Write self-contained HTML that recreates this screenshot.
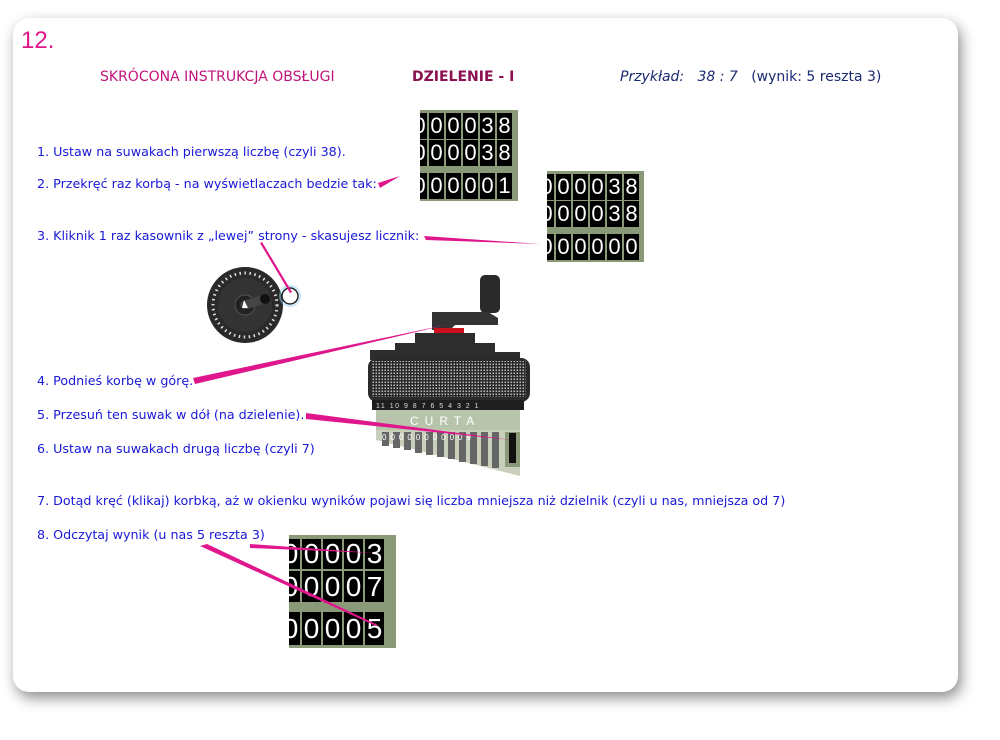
<!DOCTYPE html>
<html><head><meta charset="utf-8">
<style>
body{margin:0;width:1000px;height:740px;background:#fff;position:relative;overflow:hidden;font-family:"DejaVu Sans",sans-serif}
.card{position:absolute;left:13px;top:18px;width:945px;height:674px;background:#fff;border-radius:16px;box-shadow:3px 6px 14px rgba(0,0,0,.45)}
.t{position:absolute;font-size:12.7px;color:#1818d8;white-space:nowrap;font-family:"DejaVu Sans",sans-serif}
.ctr{position:absolute;background:#8a9a78;overflow:hidden}
.row{position:absolute;display:flex}
.row span{display:block;background:#000;color:#fff;text-align:center;border-right:2px solid #8a9a78;box-sizing:border-box;font-family:"Liberation Sans Narrow","Liberation Sans",sans-serif}
</style></head><body>
<div class="card"></div>
<div style="position:absolute;left:21px;top:27px;font-size:24px;color:#e0168c;font-family:'Liberation Sans Narrow','Liberation Sans',sans-serif">12.</div>
<div style="position:absolute;left:100px;top:69px;font-size:14px;color:#c0147a">SKRÓCONA INSTRUKCJA OBSŁUGI</div>
<div style="position:absolute;left:412px;top:69px;font-size:14px;color:#8a1050;font-weight:bold">DZIELENIE - I</div>
<div style="position:absolute;left:620px;top:69px;font-size:14px;color:#1a2a70"><i>Przykład:&nbsp;&nbsp; 38 : 7</i>&nbsp;&nbsp; (wynik: 5 reszta 3)</div>

<div class="t" style="left:37px;top:144px">1. Ustaw na suwakach pierwszą liczbę (czyli 38).</div>
<div class="t" style="left:37px;top:176px">2. Przekręć raz korbą - na wyświetlaczach bedzie tak:</div>
<div class="t" style="left:37px;top:228px">3. Kliknik 1 raz kasownik z „lewej” strony - skasujesz licznik:</div>
<div class="t" style="left:37px;top:373px">4. Podnieś korbę w górę.</div>
<div class="t" style="left:37px;top:407px">5. Przesuń ten suwak w dół (na dzielenie).</div>
<div class="t" style="left:37px;top:441px">6. Ustaw na suwakach drugą liczbę (czyli 7)</div>
<div class="t" style="left:37px;top:493px">7. Dotąd kręć (klikaj) korbką, aż w okienku wyników pojawi się liczba mniejsza niż dzielnik (czyli u nas, mniejsza od 7)</div>
<div class="t" style="left:37px;top:527px">8. Odczytaj wynik (u nas 5 reszta 3)</div>

<!-- counter 1 -->
<div class="ctr" style="left:420px;top:110px;width:98px;height:91px">
 <div class="row" style="left:-8px;top:3px;height:26px;font-size:22px;line-height:26px"><span style="width:17px">0</span><span style="width:17px">0</span><span style="width:17px">0</span><span style="width:17px">0</span><span style="width:17px">3</span><span style="width:17px">8</span></div>
 <div class="row" style="left:-8px;top:30px;height:26px;font-size:22px;line-height:26px"><span style="width:17px">0</span><span style="width:17px">0</span><span style="width:17px">0</span><span style="width:17px">0</span><span style="width:17px">3</span><span style="width:17px">8</span></div>
 <div class="row" style="left:-8px;top:63px;height:26px;font-size:22px;line-height:26px"><span style="width:17px">0</span><span style="width:17px">0</span><span style="width:17px">0</span><span style="width:17px">0</span><span style="width:17px">0</span><span style="width:17px">1</span></div>
</div>
<!-- counter 2 -->
<div class="ctr" style="left:547px;top:171px;width:97px;height:91px">
 <div class="row" style="left:-8px;top:3px;height:26px;font-size:22px;line-height:26px"><span style="width:17px">0</span><span style="width:17px">0</span><span style="width:17px">0</span><span style="width:17px">0</span><span style="width:17px">3</span><span style="width:17px">8</span></div>
 <div class="row" style="left:-8px;top:30px;height:26px;font-size:22px;line-height:26px"><span style="width:17px">0</span><span style="width:17px">0</span><span style="width:17px">0</span><span style="width:17px">0</span><span style="width:17px">3</span><span style="width:17px">8</span></div>
 <div class="row" style="left:-8px;top:63px;height:26px;font-size:22px;line-height:26px"><span style="width:17px">0</span><span style="width:17px">0</span><span style="width:17px">0</span><span style="width:17px">0</span><span style="width:17px">0</span><span style="width:17px">0</span></div>
</div>
<!-- counter 3 -->
<div class="ctr" style="left:289px;top:535px;width:107px;height:113px">
 <div class="row" style="left:-8px;top:4px;height:30px;font-size:28px;line-height:30px"><span style="width:21px">0</span><span style="width:21px">0</span><span style="width:21px">0</span><span style="width:21px">0</span><span style="width:21px">3</span></div>
 <div class="row" style="left:-8px;top:36px;height:31px;font-size:28px;line-height:31px"><span style="width:21px">0</span><span style="width:21px">0</span><span style="width:21px">0</span><span style="width:21px">0</span><span style="width:21px">7</span></div>
 <div class="row" style="left:-8px;top:77px;height:33px;font-size:28px;line-height:33px"><span style="width:21px">0</span><span style="width:21px">0</span><span style="width:21px">0</span><span style="width:21px">0</span><span style="width:21px">5</span></div>
</div>

<svg width="1000" height="740" style="position:absolute;left:0;top:0">
 <defs>
  <pattern id="dots" width="3" height="3" patternUnits="userSpaceOnUse">
   <rect width="3" height="3" fill="#2a2a2a"/><rect x="0.5" y="0.5" width="1.5" height="1.5" fill="#bbb"/>
  </pattern>
 </defs>
 <!-- dial -->
 <circle cx="245" cy="305" r="38" fill="#2a2a2a"/>
 <circle cx="245" cy="305" r="32" fill="none" stroke="#ddd" stroke-width="3" stroke-dasharray="1.5 3.5"/>
 <circle cx="245" cy="305" r="27" fill="#333"/>
 <circle cx="245" cy="305" r="10" fill="#222" stroke="#555"/>
 <line x1="245" y1="305" x2="265" y2="299" stroke="#444" stroke-width="9" stroke-linecap="round"/>
 <circle cx="265" cy="299" r="5" fill="#111"/>
 <path d="M244 300 L248 308 L242 308Z" fill="#fff"/>
 <circle cx="290" cy="296" r="8" fill="none" stroke="#222" stroke-width="1.5"/>
 <circle cx="290" cy="296" r="10" fill="none" stroke="#8cd0f0" stroke-width="2" opacity=".5"/>
 <!-- curta -->
 <rect x="480" y="275" width="20" height="38" rx="5" fill="#2a2a2a"/>
 <path d="M432 312 H488 L498 318 V325 H455 L450 330 H432Z" fill="#333"/>
 <rect x="434" y="328" width="30" height="6" fill="#cc1020"/>
 <path d="M415 333 H475 V343 H495 V352 H520 V360 H370 V350 H395 L395 343 H415Z" fill="#2d2d2d"/>
 <rect x="368" y="358" width="162" height="44" rx="9" fill="#2a2a2a"/>
 <rect x="372" y="361" width="154" height="36" fill="url(#dots)"/>
 <rect x="372" y="400" width="152" height="10" fill="#1e1e1e"/>
 <text x="376" y="408" font-size="7" fill="#ddd" font-family="Liberation Sans" letter-spacing="1.5">11 10 9 8 7 6 5 4 3 2 1</text>
 <rect x="376" y="410" width="144" height="20" fill="#b8c4ac"/>
 <text x="410" y="425" font-size="12" fill="#fff" font-family="Liberation Sans" letter-spacing="6">CURTA</text>
 <path d="M376 430 H520 V476 L376 440Z" fill="#c8d0bc"/>
 <g fill="#666">
  <rect x="382" y="432" width="7" height="14"/><rect x="393" y="432" width="7" height="16"/><rect x="404" y="432" width="7" height="18"/><rect x="415" y="432" width="7" height="21"/><rect x="426" y="432" width="7" height="23"/><rect x="437" y="432" width="7" height="25"/><rect x="448" y="432" width="7" height="27"/><rect x="459" y="432" width="7" height="30"/><rect x="470" y="432" width="7" height="32"/><rect x="481" y="432" width="7" height="34"/><rect x="492" y="432" width="7" height="36"/>
 </g>
 <text x="382" y="440" font-size="8" fill="#fff" font-family="Liberation Sans" letter-spacing="4">00000000009</text>
 <rect x="505" y="432" width="15" height="35" fill="#8a9a78"/>
 <rect x="509" y="433" width="7" height="30" fill="#111"/>
 <!-- pink pointers -->
 <g fill="#e0168c">
  <polygon points="378,183 400,176 380,188"/>
  <polygon points="424,236 426,240 540,244"/>
  <polygon points="260,243 262,242 292,292 290,293"/>
  <polygon points="193,378 195,384 450,324"/>
  <polygon points="306,413 306,419 512,440"/>
  <polygon points="250,544 250,548 375,553"/>
  <polygon points="200,546 207,544 378,625 376,626"/>
 </g>
</svg>
</body></html>
